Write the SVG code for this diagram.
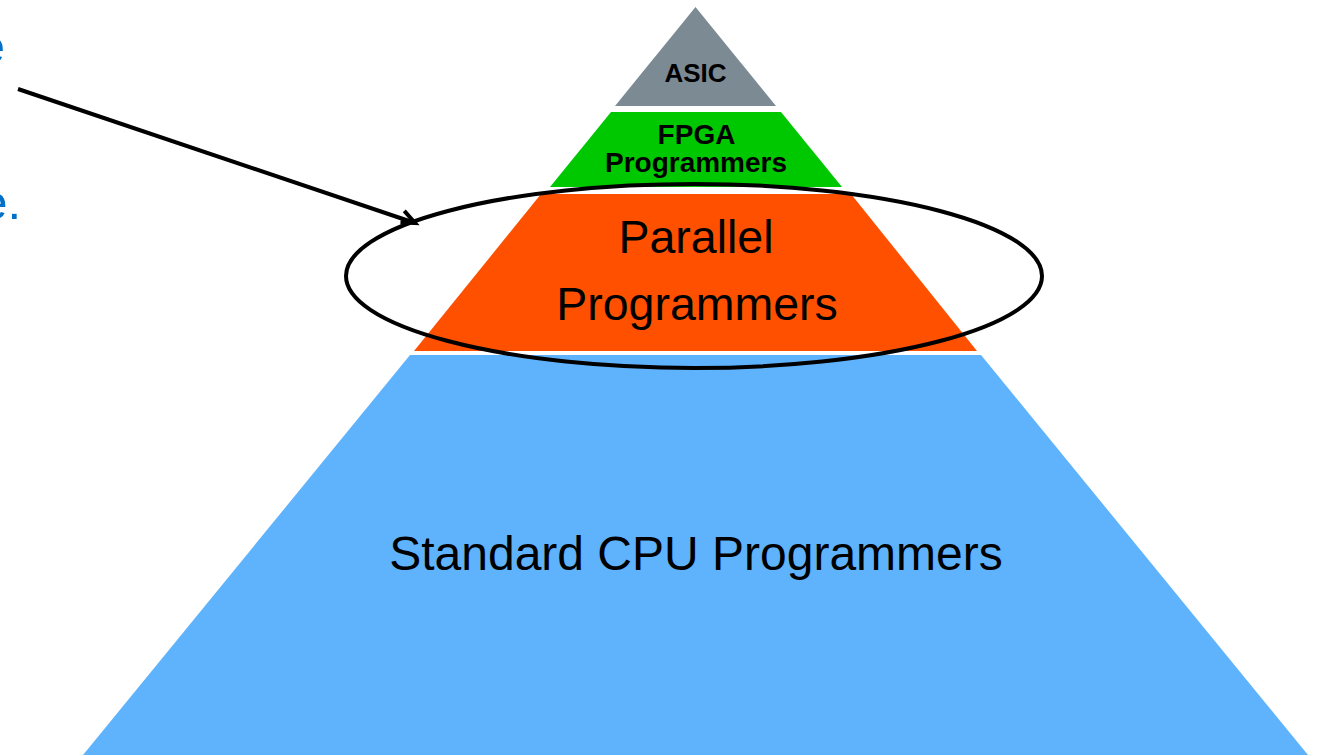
<svg xmlns="http://www.w3.org/2000/svg" width="1321" height="755" viewBox="0 0 1321 755">
  <style>
    .lbl { font-family: "Liberation Sans", Arial, sans-serif; fill: #000; text-anchor: middle; }
    .small { font-size: 28px; font-weight: bold; }
    .big { font-size: 46.5px; }
    .side { font-family: "Liberation Sans", Arial, sans-serif; font-size: 49px; fill: #0070c8; text-anchor: end; }
  </style>
  <defs>
    <marker id="arrowHead" viewBox="0 0 12 12" refX="10" refY="6" markerWidth="12" markerHeight="12" markerUnits="userSpaceOnUse" orient="auto" overflow="visible">
      <path d="M -4 -2 L 10 6 L -4 10" fill="none" stroke="#000" stroke-width="4" stroke-linejoin="miter"/>
    </marker>
  </defs>
  <rect width="1321" height="755" fill="#fff"/>

  <!-- text running off the left edge -->
  <text class="side" x="5" y="63">e</text>
  <text class="side" x="21" y="219">e.</text>

  <!-- pyramid tiers -->
  <g id="cpu">
    <polygon points="410,355 981,355 1308,755 83,755" fill="#5fb3fd"/>
    <text class="lbl" x="696" y="570" style="font-size:48px">Standard CPU Programmers</text>
  </g>
  <g id="parallel">
    <polygon points="541,194 851,194 977,351 414,351" fill="#ff5000"/>
    <text class="lbl big" x="696" y="253">Parallel</text>
    <text class="lbl big" x="697" y="320">Programmers</text>
  </g>
  <g id="fpga">
    <polygon points="611,112 781,112 842,187 550,187" fill="#00c800"/>
    <text class="lbl small" x="696.5" y="144">FPGA</text>
    <text class="lbl small" x="696" y="172">Programmers</text>
  </g>
  <g id="asic">
    <polygon points="695.5,7 776,106 615,106" fill="#7c8a94"/>
    <text class="lbl" x="695.5" y="82" style="font-size:26px;font-weight:bold">ASIC</text>
  </g>

  <!-- highlight ring and pointer -->
  <g id="connectors" fill="none" stroke="#000" stroke-width="4">
    <ellipse cx="694" cy="276" rx="348" ry="92"/>
    <line x1="18" y1="89" x2="415" y2="223" marker-end="url(#arrowHead)"/>
  </g>
</svg>
